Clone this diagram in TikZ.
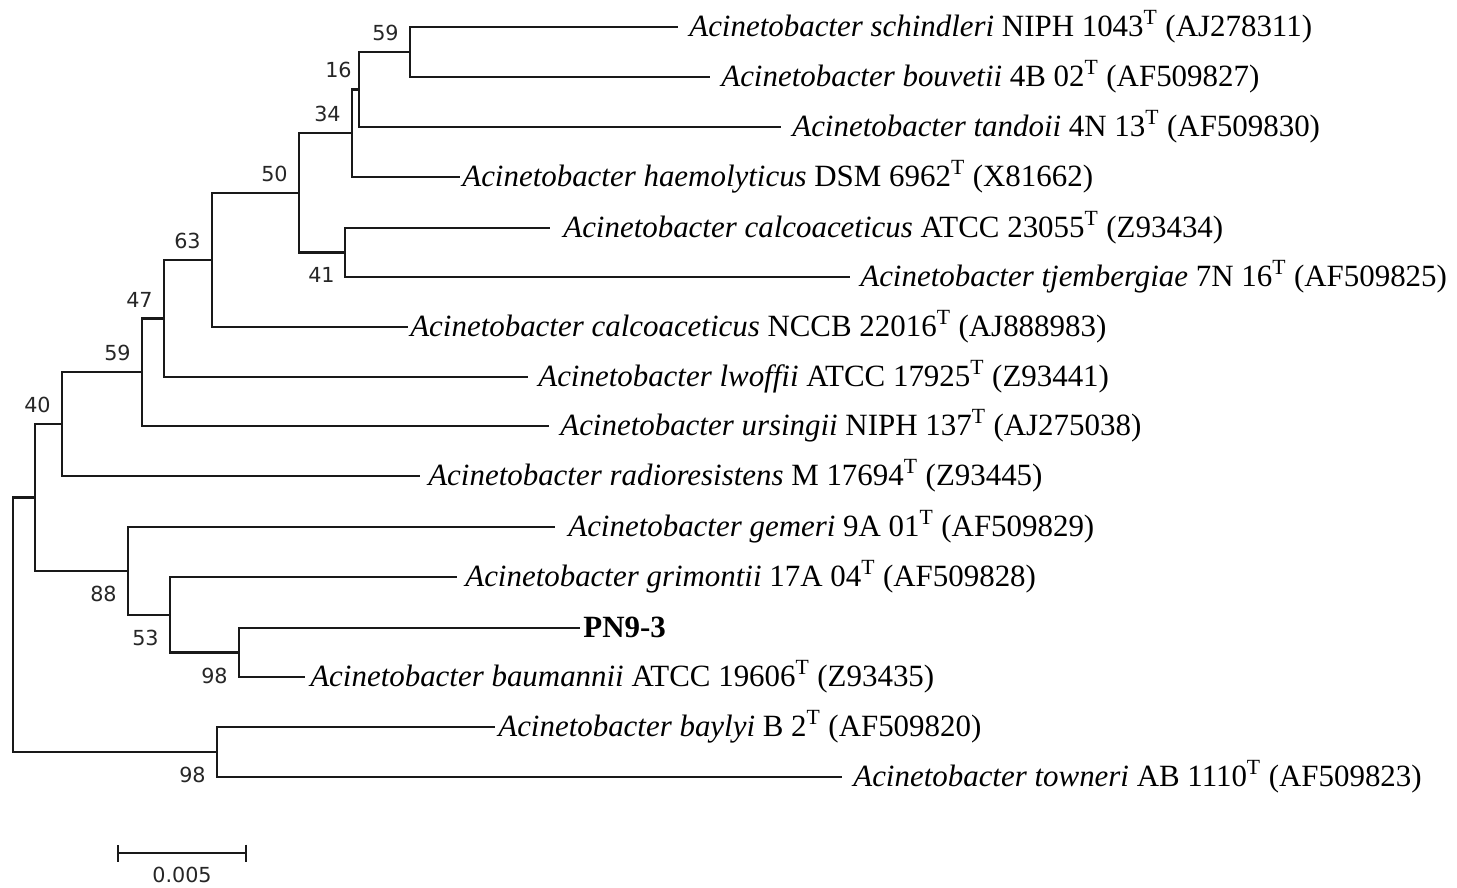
\documentclass[tikz,border=0pt]{standalone}
\usepackage{fontspec}
\setmainfont{Liberation Serif}
\newfontfamily\bootfont{DejaVu Sans}
\usetikzlibrary{positioning, arrows.meta, calc}

\newcommand\acin[1]{\textit{Acinetobacter #1}}
\newcommand\typ{\textsuperscript{T}}

\begin{document}
\begin{tikzpicture}[
  x=0.02cm, y=-0.02cm,
  branch/.style={line width=1.25pt, draw=black!90},
  taxon/.style={anchor=base west, inner sep=0pt, yshift=-0.18cm,
                font=\fontsize{17.6}{21}\selectfont},
  boot/.style={inner sep=0pt, text=black!85, font=\bootfont\fontsize{11.8}{14}\selectfont},
]
\useasboundingbox (0,0) rectangle (1457,887);

% internal nodes of the tree
\coordinate (nA) at (410,52);
\coordinate (nB) at (359,89.5);
\coordinate (nC) at (352,133);
\coordinate (nD) at (345,252.5);
\coordinate (nE) at (299,193);
\coordinate (nF) at (212,260);
\coordinate (nG) at (164,318.5);
\coordinate (nH) at (142,372);
\coordinate (nI) at (62,424);
\coordinate (nJ) at (239,652.5);
\coordinate (nK) at (170,615);
\coordinate (nL) at (128,571);
\coordinate (nM) at (35,497.5);
\coordinate (nN) at (217,752);
\coordinate (root) at (13,625);

% tips
\coordinate (e1) at (678,27);
\coordinate (e2) at (710,77);
\coordinate (e3) at (781,127);
\coordinate (e4) at (460,177);
\coordinate (e5) at (550,228);
\coordinate (e6) at (850,277);
\coordinate (e7) at (408,327);
\coordinate (e8) at (528,377);
\coordinate (e9) at (549,426);
\coordinate (e10) at (420,476);
\coordinate (e11) at (555,527);
\coordinate (e12) at (457,577);
\coordinate (e13) at (580,628);
\coordinate (e14) at (305,677);
\coordinate (e15) at (495,727);
\coordinate (e16) at (842,777);

\node[taxon] (schindleri) at (689,27) {\acin{schindleri} NIPH 1043\typ{} (AJ278311)};
\node[taxon] (bouvetii) at (721,77) {\acin{bouvetii} 4B 02\typ{} (AF509827)};
\node[taxon] (tandoii) at (792,127) {\acin{tandoii} 4N 13\typ{} (AF509830)};
\node[taxon] (haemolyticus) at (462,177) {\acin{haemolyticus} DSM 6962\typ{} (X81662)};
\node[taxon] (calcATCC) at (563,228) {\acin{calcoaceticus} ATCC 23055\typ{} (Z93434)};
\node[taxon] (tjembergiae) at (860,277) {\acin{tjembergiae} 7N 16\typ{} (AF509825)};
\node[taxon] (calcNCCB) at (410,327) {\acin{calcoaceticus} NCCB 22016\typ{} (AJ888983)};
\node[taxon] (lwoffii) at (538,377) {\acin{lwoffii} ATCC 17925\typ{} (Z93441)};
\node[taxon] (ursingii) at (560,426) {\acin{ursingii} NIPH 137\typ{} (AJ275038)};
\node[taxon] (radioresistens) at (428,476) {\acin{radioresistens} M 17694\typ{} (Z93445)};
\node[taxon] (gemeri) at (568,527) {\acin{gemeri} 9A 01\typ{} (AF509829)};
\node[taxon] (grimontii) at (465,577) {\acin{grimontii} 17A 04\typ{} (AF509828)};
\node[taxon] (pn93) at (583,628) {\textbf{PN9-3}};
\node[taxon] (baumannii) at (310,677) {\acin{baumannii} ATCC 19606\typ{} (Z93435)};
\node[taxon] (baylyi) at (498,727) {\acin{baylyi} B 2\typ{} (AF509820)};
\node[taxon] (towneri) at (853,777) {\acin{towneri} AB 1110\typ{} (AF509823)};

% branches
\foreach \p/\c in {nA/e1, nA/e2, nB/nA, nB/e3, nC/nB, nC/e4, nD/e5, nD/e6,
                   nE/nC, nE/nD, nF/nE, nF/e7, nG/nF, nG/e8, nH/nG, nH/e9,
                   nI/nH, nI/e10, nJ/e13, nJ/e14, nK/e12, nK/nJ, nL/e11, nL/nK,
                   nM/nI, nM/nL, nN/e15, nN/e16, root/nM, root/nN}
  \draw[branch] (\p) |- (\c);

% bootstrap values
\node[boot, above left=0.22cm and 0.22cm of nA] (bA) {59};
\node[boot, above left=0.22cm and 0.14cm of nB] (bB) {16};
\node[boot, above left=0.22cm and 0.22cm of nC] (bC) {34};
\node[boot, above left=0.22cm and 0.22cm of nE] (bE) {50};
\node[boot, above left=0.22cm and 0.22cm of nF] (bF) {63};
\node[boot, above left=0.22cm and 0.22cm of nG] (bG) {47};
\node[boot, above left=0.22cm and 0.22cm of nH] (bH) {59};
\node[boot, above left=0.22cm and 0.22cm of nI] (bI) {40};
\node[boot, below left=0.3cm and 0.2cm of nD] (bD) {41};
\node[boot, below left=0.3cm and 0.22cm of nL] (bL) {88};
\node[boot, below left=0.3cm and 0.22cm of nK] (bK) {53};
\node[boot, below left=0.3cm and 0.22cm of nJ] (bJ) {98};
\node[boot, below left=0.3cm and 0.22cm of nN] (bN) {98};

% scale bar
\coordinate (sb1) at (117,853);
\coordinate (sb2) at (247,853);
\draw[branch, {Bar[width=0.34cm]}-{Bar[width=0.34cm]}] (sb1) -- (sb2);
\node[boot, below=0.28cm of $(sb1)!0.5!(sb2)$] (sblabel) {0.005};

\end{tikzpicture}
\end{document}
